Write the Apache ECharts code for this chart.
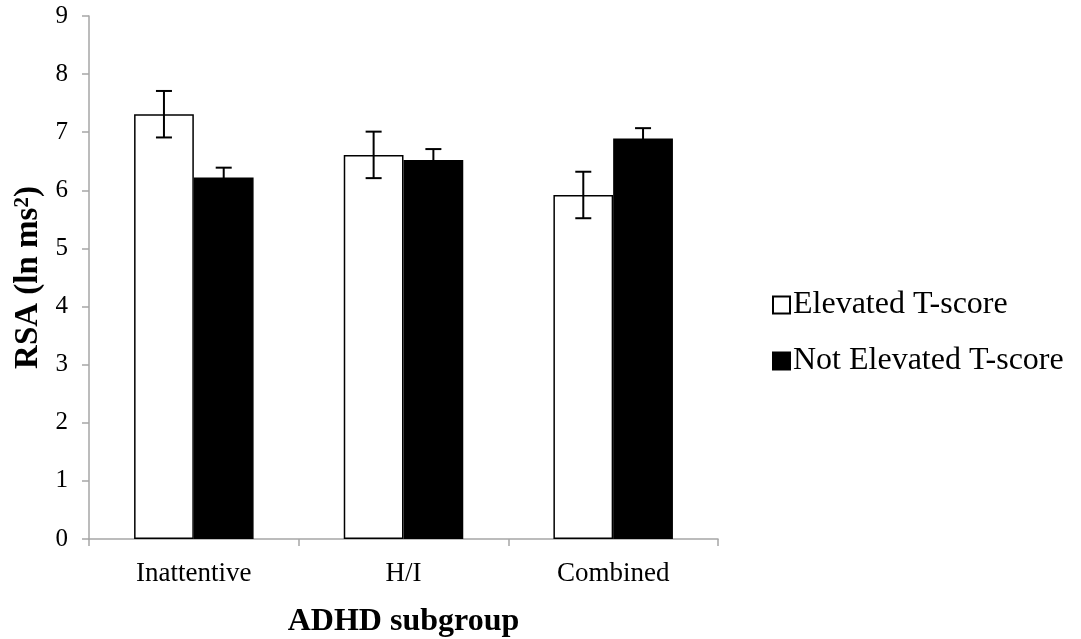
<!DOCTYPE html>
<html>
<head>
<meta charset="utf-8">
<script src="https://cdn.jsdelivr.net/npm/echarts@6/dist/echarts.min.js"></script>
<style>
html,body{margin:0;padding:0;background:#fff;}
#chart{width:1081px;height:639px;}
</style>
</head>
<body>
<div id="chart"></div>
<script>
var categories = ['Inattentive', 'H/I', 'Combined'];
var seriesNames = ['Elevated T-score', 'Not Elevated T-score'];
var elevatedValues = [7.31, 6.61, 5.92];
var elevatedErrors = [0.40, 0.40, 0.40];
var notElevatedValues = [6.22, 6.52, 6.89];
var notElevatedErrors = [0.17, 0.19, 0.18];
var yTicks = [0, 1, 2, 3, 4, 5, 6, 7, 8, 9];

var FONT = '"Liberation Serif", "Times New Roman", serif';
var BAR_FRAC = 0.285;

function errData(vals, errs) {
  return vals.map(function (v, i) { return [i, v - errs[i], v + errs[i]]; });
}

function makeErrRender(sign) {
  return function (params, api) {
    var idx = api.value(0);
    var band = api.size([1, 0])[0];
    var off = sign * band * BAR_FRAC / 2;
    var lo = api.coord([idx, api.value(1)]);
    var hi = api.coord([idx, api.value(2)]);
    var x = lo[0] + off;
    var cap = 8;
    var st = { stroke: '#000', lineWidth: 2 };
    return {
      type: 'group',
      children: [
        { type: 'line', shape: { x1: x, y1: lo[1], x2: x, y2: hi[1] }, style: st },
        { type: 'line', shape: { x1: x - cap, y1: lo[1], x2: x + cap, y2: lo[1] }, style: st },
        { type: 'line', shape: { x1: x - cap, y1: hi[1], x2: x + cap, y2: hi[1] }, style: st }
      ]
    };
  };
}

var chart = echarts.init(document.getElementById('chart'));
chart.setOption({
  animation: false,
  backgroundColor: '#fff',
  grid: { left: 89, right: 363, top: 16, bottom: 100, containLabel: false, outerBoundsMode: 'none' },
  legend: {
    orient: 'vertical',
    left: 767,
    top: 284,
    itemWidth: 17,
    itemHeight: 17,
    itemGap: 24,
    icon: 'rect',
    textStyle: { fontFamily: FONT, fontSize: 32, color: '#000', padding: [0, 0, 0, -2] },
    data: seriesNames
  },
  xAxis: {
    type: 'category',
    data: categories,
    name: 'ADHD subgroup',
    nameLocation: 'middle',
    nameGap: 67,
    nameTextStyle: { fontFamily: FONT, fontSize: 32, fontWeight: 'bold', color: '#000' },
    axisLine: { lineStyle: { color: '#a6a6a6', width: 1.5 } },
    axisTick: { show: true, length: 7, lineStyle: { color: '#a6a6a6', width: 1.5 } },
    axisLabel: { fontFamily: FONT, fontSize: 27, color: '#000', margin: 21 }
  },
  yAxis: {
    type: 'value',
    min: 0,
    max: 9,
    interval: 1,
    name: '{t|RSA (ln ms}{s|2}{t|)}',
    nameLocation: 'middle',
    nameGap: 38,
    nameTextStyle: {
      rich: {
        t: { fontFamily: FONT, fontSize: 33, fontWeight: 'bold', color: '#000' },
        s: { fontFamily: FONT, fontSize: 21, fontWeight: 'bold', color: '#000', verticalAlign: 'top', padding: [0, 0, 12, 0] }
      }
    },
    splitLine: { show: false },
    axisLine: { show: true, lineStyle: { color: '#a6a6a6', width: 1.5 } },
    axisTick: { show: true, length: 7, lineStyle: { color: '#a6a6a6', width: 1.5 } },
    axisLabel: {
      fontFamily: FONT, fontSize: 25, color: '#000', margin: 21,
      formatter: function (v) { return yTicks.indexOf(v) >= 0 ? String(v) : ''; }
    }
  },
  series: [
    {
      name: seriesNames[0],
      type: 'bar',
      data: elevatedValues,
      barWidth: (BAR_FRAC * 100) + '%',
      barGap: '0%',
      itemStyle: { color: '#fff', borderColor: '#000', borderWidth: 1.5 }
    },
    {
      name: seriesNames[1],
      type: 'bar',
      data: notElevatedValues,
      barWidth: (BAR_FRAC * 100) + '%',
      barGap: '0%',
      itemStyle: { color: '#000', borderColor: '#000', borderWidth: 1.5 }
    },
    {
      type: 'custom',
      renderItem: makeErrRender(-1),
      data: errData(elevatedValues, elevatedErrors),
      encode: { x: 0, y: [1, 2] },
      z: 10,
      silent: true
    },
    {
      type: 'custom',
      renderItem: makeErrRender(1),
      data: errData(notElevatedValues, notElevatedErrors),
      encode: { x: 0, y: [1, 2] },
      z: 10,
      silent: true
    }
  ]
});
</script>
</body>
</html>
